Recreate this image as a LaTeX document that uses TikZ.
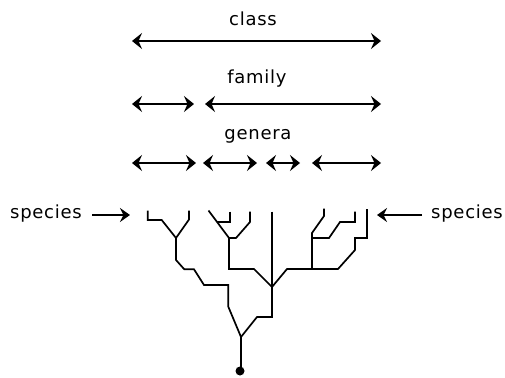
\documentclass[tikz,border=0pt]{standalone}
\usepackage{fontspec}
\setmainfont{DejaVu Sans}[LetterSpace=4]
\usetikzlibrary{arrows.meta}
\begin{document}
\begin{tikzpicture}[x=1pt,y=-1pt,
  lbl/.style={font=\fontsize{18}{20}\selectfont, inner sep=0pt},
  spanarrow/.style={line width=1.6pt, {Stealth[length=10pt,width=16pt,inset=3.5pt]}-{Stealth[length=10pt,width=16pt,inset=3.5pt]}},
  ptr/.style={line width=1.6pt, -{Stealth[length=10pt,width=14pt,inset=3.5pt]}},
  branch/.style={line width=1.7pt, line join=miter}]
\useasboundingbox (0,0) rectangle (505,377);
% labels
\node[lbl] (class) at (253,19) {class};
\node[lbl] (family) at (257,79) {family};
\node[lbl] (genera) at (258,136) {genera};
\node[lbl] (spL) at (46,214) {species};
\node[lbl] (spR) at (467,214) {species};
% range arrows
\coordinate (c1) at (132,41); \coordinate (c2) at (381,41);
\draw[spanarrow] (c1) -- (c2);
\coordinate (f1) at (132,104); \coordinate (f2) at (194,104);
\coordinate (f3) at (205,104); \coordinate (f4) at (381,104);
\draw[spanarrow] (f1) -- (f2);
\draw[spanarrow] (f3) -- (f4);
\coordinate (g1) at (132,163); \coordinate (g2) at (196,163);
\coordinate (g3) at (203,163); \coordinate (g4) at (257,163);
\coordinate (g5) at (266,163); \coordinate (g6) at (300,163);
\coordinate (g7) at (312,163); \coordinate (g8) at (381,163);
\draw[spanarrow] (g1) -- (g2);
\draw[spanarrow] (g3) -- (g4);
\draw[spanarrow] (g5) -- (g6);
\draw[spanarrow] (g7) -- (g8);
% species pointers
\coordinate (pL1) at (92,215); \coordinate (pL2) at (130,215);
\coordinate (pR1) at (422,215); \coordinate (pR2) at (377,215);
\draw[ptr] (pL1) -- (pL2);
\draw[ptr] (pR1) -- (pR2);
% tree
\coordinate (root) at (241,337);
\coordinate (base) at (241,367);
\coordinate (hub) at (272,287);
\coordinate (j1) at (176,238);
\coordinate (j2) at (229,238);
% genus 1
\draw[branch] (147.7,210.5) -- (147.7,220) -- (161.7,220) -- (j1);
\draw[branch] (189,210.5) -- (189,219.5) -- (j1);
\draw[branch] (j1) -- (176,260) -- (184.3,269.3) -- (194,269.3) -- (204,285) -- (228.3,285) -- (228.3,306.7) -- (root);
% genus 2
\draw[branch] (208.5,210.5) -- (j2);
\draw[branch] (230,211.5) -- (230,222) -- (216.5,222);
\draw[branch] (250,211.5) -- (250,222) -- (236,238) -- (j2);
\draw[branch] (j2) -- (229,269) -- (254,269) -- (hub);
% genus 3
\draw[branch] (272,211.5) -- (hub);
\draw[branch] (hub) -- (272,317) -- (257,317) -- (root);
% genus 4
\draw[branch] (324,208.5) -- (324,216) -- (312,233) -- (312,269);
\draw[branch] (355,211.5) -- (355,222) -- (340,222) -- (329,238) -- (312,238);
\draw[branch] (367,209) -- (367,238) -- (355,238) -- (355,250) -- (338,269) -- (287,269) -- (hub);
% trunk
\draw[branch] (root) -- (base);
\node[circle, fill=black, inner sep=0pt, minimum size=9pt] (dot) at (240,371) {};
\end{tikzpicture}
\end{document}
